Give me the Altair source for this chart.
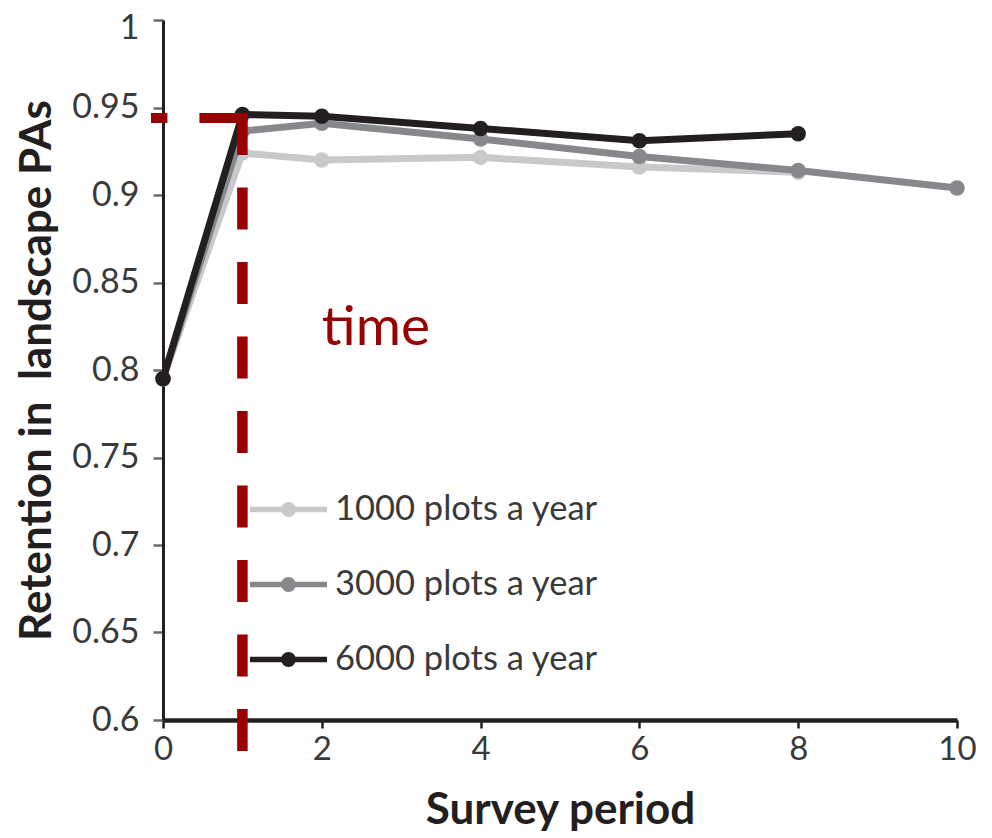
import altair as alt
import pandas as pd

# ---------------- data ----------------
series_names = ["1000 plots a year", "3000 plots a year", "6000 plots a year"]
series_colors = ["#c8c9cb", "#87888c", "#231f20"]

periods_1000 = [0, 1, 2, 4, 6, 8]
retention_1000 = [0.795, 0.924, 0.920, 0.9215, 0.916, 0.913]

periods_3000 = [0, 1, 2, 4, 6, 8, 10]
retention_3000 = [0.795, 0.9365, 0.941, 0.932, 0.922, 0.914, 0.904]

periods_6000 = [0, 1, 2, 4, 6, 8]
retention_6000 = [0.795, 0.946, 0.945, 0.938, 0.931, 0.935]

x_ticks = [0, 2, 4, 6, 8, 10]
y_ticks = [0.6, 0.65, 0.7, 0.75, 0.8, 0.85, 0.9, 0.95, 1.0]

# annotation (red dashed guide + "time")
annot_h_from = [1.063]
annot_h_to = [-0.151]
annot_h_level = [0.944]
annot_v_period = [1.0]
annot_v_top = [0.9469]
annot_v_bottom = [0.5817]
annot_text = ["time"]
annot_text_x = [2.0]
annot_text_y = [0.8143]

FONT = "Lato"
RED = "#990000"

df = pd.DataFrame({
    "period": periods_1000 + periods_3000 + periods_6000,
    "retention": retention_1000 + retention_3000 + retention_6000,
    "series": [series_names[0]] * len(periods_1000)
    + [series_names[1]] * len(periods_3000)
    + [series_names[2]] * len(periods_6000),
})

x_scale = alt.Scale(domain=[0, 10], nice=False, zero=False)
y_scale = alt.Scale(domain=[0.6, 1.0], nice=False, zero=False)
color_scale = alt.Scale(domain=series_names, range=series_colors)

x_axis = alt.Axis(
    values=x_ticks, format="d", labelFlush=False,
    labelFont=FONT, labelFontSize=33, labelColor="#3a3a3a", labelPadding=5,
    tickSize=8, tickWidth=2.5, tickColor="#231f20",
    domainColor="#231f20", domainWidth=4.5, grid=False,
    titleFont=FONT, titleFontSize=44, titleFontWeight="bold", titleColor="#231f20",
    titlePadding=22,
)
y_axis = alt.Axis(
    values=y_ticks, format="~g", labelFlush=False,
    labelOffset={"condition": {"test": "datum.value >= 0.999", "value": 8}, "value": 0},
    labelFont=FONT, labelFontSize=34, labelColor="#3a3a3a", labelPadding=14,
    tickSize=10, tickWidth=2.5, tickColor="#6a6a6a",
    domainColor="#231f20", domainWidth=3, grid=False,
    titleFont=FONT, titleFontSize=44, titleFontWeight="bold", titleColor="#231f20",
    titlePadding=12,
)
X_TITLE = "Survey period"
Y_TITLE = "Retention in\u00a0 landscape PAs"

legend_path = ("M-1,0H1"
               "M-0.123,0A0.123,0.123,0,1,0,0.123,0A0.123,0.123,0,1,0,-0.123,0"
               "M-0.045,0A0.045,0.045,0,1,0,0.045,0A0.045,0.045,0,1,0,-0.045,0")
legend = alt.Legend(
    orient="none", legendX=84, legendY=448, title=None,
    symbolType=legend_path, symbolSize=5929, symbolStrokeWidth=5.5,
    symbolOpacity=1, labelFont=FONT, labelFontSize=34.5, labelColor="#3a3a3a",
    labelOffset=5, labelLimit=0, rowPadding=17, padding=0,
)


def xenc(field):
    return alt.X(field, scale=x_scale, axis=x_axis, title=X_TITLE)


def yenc(field):
    return alt.Y(field, scale=y_scale, axis=y_axis, title=Y_TITLE)


layers = []
for i, name in enumerate(series_names):
    sub = df[df["series"] == name]
    line = alt.Chart(sub).mark_line(strokeWidth=7).encode(
        x=xenc("period:Q"),
        y=yenc("retention:Q"),
        color=alt.Color("series:N", scale=color_scale, legend=legend),
    )
    pts = alt.Chart(sub).mark_point(filled=True, size=240, opacity=1).encode(
        x=xenc("period:Q"),
        y=yenc("retention:Q"),
        fill=alt.Fill("series:N", scale=color_scale, legend=None),
    )
    layers += [line, pts]

hrule = alt.Chart(pd.DataFrame({
    "x": annot_h_from, "x2": annot_h_to, "y": annot_h_level,
})).mark_rule(color=RED, strokeWidth=10, strokeDash=[48, 32], strokeCap="butt", clip=False).encode(
    x=xenc("x:Q"),
    x2="x2:Q",
    y=yenc("y:Q"),
)

vrule = alt.Chart(pd.DataFrame({
    "x": annot_v_period, "y": annot_v_top, "y2": annot_v_bottom,
})).mark_rule(color=RED, strokeWidth=10.5, strokeDash=[42, 32.5], strokeCap="butt", clip=False).encode(
    x=xenc("x:Q"),
    y=yenc("y:Q"),
    y2="y2:Q",
)

time_text = alt.Chart(pd.DataFrame({
    "label": annot_text, "x": annot_text_x, "y": annot_text_y,
})).mark_text(color=RED, font=FONT, fontSize=55, align="left", baseline="alphabetic").encode(
    x=xenc("x:Q"),
    y=yenc("y:Q"),
    text="label:N",
)

chart = alt.layer(*layers, vrule, hrule, time_text).properties(
    width=794, height=700,
    autosize=alt.AutoSizeParams(type="none"),
    padding={"left": 155, "top": 12, "right": 27, "bottom": 118},
    background="white",
).configure_view(stroke=None)

chart.save("out.html", embed_options={"renderer": "svg", "actions": False})
